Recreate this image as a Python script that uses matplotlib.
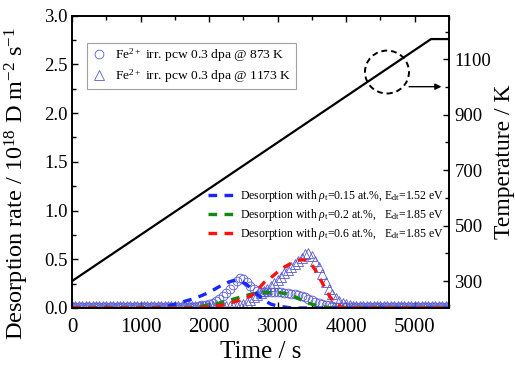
import numpy as np
import matplotlib
matplotlib.use("Agg")
import matplotlib.pyplot as plt
from matplotlib.patches import Ellipse
from matplotlib.ticker import MultipleLocator, FormatStrFormatter

plt.rcParams['font.family'] = ['Liberation Serif', 'DejaVu Serif']
plt.rcParams['mathtext.fontset'] = 'custom'
plt.rcParams['mathtext.rm'] = 'Liberation Serif'
plt.rcParams['mathtext.it'] = 'Liberation Serif:italic'
plt.rcParams['mathtext.bf'] = 'Liberation Serif:bold'

# ---------------- data ----------------
time_s = np.arange(0, 5550, 50)  # 0 .. 5500 s, 111 samples

exp_873 = [0.015]*37 + [0.02, 0.03, 0.035, 0.045, 0.055, 0.07, 0.09, 0.12, 0.15, 0.19,
                        0.24, 0.28, 0.31, 0.30, 0.27, 0.23, 0.19, 0.17, 0.16, 0.16,
                        0.16, 0.16, 0.16, 0.16, 0.16, 0.155, 0.15, 0.145, 0.14, 0.13,
                        0.12, 0.11, 0.095, 0.08, 0.065, 0.055, 0.045, 0.035, 0.03, 0.02,
                        0.015] + [0.015]*33
exp_1173 = [0.02]*49 + [0.03, 0.04, 0.06, 0.08, 0.11, 0.13, 0.15, 0.17, 0.20, 0.23,
                        0.26, 0.29, 0.32, 0.36, 0.39, 0.42, 0.45, 0.48, 0.51, 0.55,
                        0.56, 0.53, 0.48, 0.42, 0.35, 0.27, 0.20, 0.14, 0.10, 0.07,
                        0.05, 0.04, 0.03] + [0.02]*29

sim_015 = [0.0]*25 + [0.005, 0.01, 0.015, 0.02, 0.03, 0.04, 0.05, 0.06, 0.07, 0.08,
                      0.09, 0.10, 0.115, 0.13, 0.145, 0.16, 0.18, 0.20, 0.22, 0.24,
                      0.255, 0.27, 0.28, 0.28, 0.275, 0.26, 0.24, 0.21, 0.18, 0.14,
                      0.11, 0.08, 0.06, 0.04, 0.03, 0.02, 0.015, 0.01, 0.005] + [0.0]*47
sim_02 = [0.0]*35 + [0.005, 0.01, 0.015, 0.02, 0.025, 0.03, 0.035, 0.04, 0.05, 0.06,
                     0.07, 0.08, 0.09, 0.10, 0.11, 0.12, 0.13, 0.14, 0.145, 0.15,
                     0.155, 0.16, 0.16, 0.16, 0.16, 0.16, 0.155, 0.15, 0.14, 0.13,
                     0.115, 0.10, 0.08, 0.06, 0.05, 0.04, 0.03, 0.02, 0.015, 0.01,
                     0.005] + [0.0]*35
sim_06 = [0.0]*37 + [0.005, 0.01, 0.01, 0.01, 0.015, 0.02, 0.025, 0.03, 0.04, 0.05,
                     0.06, 0.07, 0.085, 0.10, 0.11, 0.12, 0.15, 0.19, 0.22, 0.26,
                     0.29, 0.31, 0.34, 0.37, 0.40, 0.42, 0.44, 0.46, 0.48, 0.49,
                     0.495, 0.49, 0.47, 0.44, 0.39, 0.32, 0.26, 0.19, 0.13, 0.08,
                     0.04, 0.02, 0.005] + [0.0]*31

temp_time = [0, 5238, 5500]
temp_K = [300, 1173, 1173]

exp_labels = [r"Fe$^{2+}$ irr. pcw 0.3 dpa @ 873 K",
              r"Fe$^{2+}$ irr. pcw 0.3 dpa @ 1173 K"]
sim_labels = [r"Desorption with $\rho_{\rm t}$=0.15 at.%, E$_{\rm dt}$=1.52 eV",
              r"Desorption with $\rho_{\rm t}$=0.2 at.%,   E$_{\rm dt}$=1.85 eV",
              r"Desorption with $\rho_{\rm t}$=0.6 at.%,   E$_{\rm dt}$=1.85 eV"]

# ---------------- figure ----------------
fig = plt.figure(figsize=(5.15, 3.66), dpi=100)
ax = fig.add_axes([72/515, 1-308/366, 377/515, 292.5/366])

mcol = '#5a5ad0'
h1, = ax.plot(time_s, exp_873, linestyle='none', marker='o', ms=6.3, mfc='none',
              mec=mcol, mew=0.6)
h2, = ax.plot(time_s, exp_1173, linestyle='none', marker='^', ms=6.8, mfc='none',
              mec=mcol, mew=0.6)

dash_kw = dict(lw=2.4, dashes=(2.6, 2.2), dash_capstyle='butt')
s1, = ax.plot(time_s, sim_015, color='#1428ff', **dash_kw)
s2, = ax.plot(time_s, sim_02, color='#108a10', **dash_kw)
s3, = ax.plot(time_s, sim_06, color='#ff1010', **dash_kw)

ax.set_xlim(0, 5500)
ax.set_ylim(0, 3.0)
ax.xaxis.set_major_locator(MultipleLocator(1000))
ax.xaxis.set_minor_locator(MultipleLocator(500))
ax.yaxis.set_major_locator(MultipleLocator(0.5))
ax.yaxis.set_minor_locator(MultipleLocator(0.25))
ax.tick_params(which='both', direction='in', top=True, right=False, width=1)
ax.tick_params(which='major', length=4)
ax.tick_params(which='minor', length=3)
ax.tick_params(axis='x', labelsize=15, pad=7)
ax.tick_params(axis='y', labelsize=13.5, pad=3)
ax.yaxis.set_major_formatter(FormatStrFormatter('%.1f'))
for sp in ax.spines.values():
    sp.set_linewidth(1.2)

ax.set_xlabel("Time / s", fontsize=18, labelpad=3)
ax.set_ylabel(r"Desorption rate / 10$^{18}$ D m$^{-2}$ s$^{-1}$", fontsize=17.5)
ax.yaxis.set_label_coords(-0.108, 0.425)

# annotation: dashed circle and arrow
ax.add_patch(Ellipse((4595, 2.42), 642, 0.44, fill=False, ls=(0, (3, 2)), lw=1.4,
                     color='black', zorder=5))
ax.annotate("", xy=(5390, 2.27), xytext=(4917, 2.27),
            arrowprops=dict(arrowstyle='-|>', color='black', lw=1.0,
                            mutation_scale=9, shrinkA=0, shrinkB=0), zorder=5)

# temperature axis
ax2 = ax.twinx()
ax2.plot(temp_time, temp_K, color='black', lw=1.6)
ax2.set_ylim(203, 1258)
ax2.yaxis.set_major_locator(MultipleLocator(200, offset=100))
ax2.yaxis.set_minor_locator(MultipleLocator(100))
ax2.tick_params(which='both', direction='in', width=1)
ax2.tick_params(which='major', length=4, labelsize=13.5, pad=4)
ax2.tick_params(which='minor', length=3)
ax2.set_ylabel("Temperature / K", fontsize=17)
ax2.yaxis.set_label_coords(1.12, 0.5)
for sp in ax2.spines.values():
    sp.set_linewidth(1.2)

leg1 = ax2.legend([h1, h2], exp_labels, loc='upper left',
                  bbox_to_anchor=(0.04, 0.907), fontsize=9.7, frameon=True,
                  fancybox=False, edgecolor='#888888', handlelength=1.2,
                  handletextpad=0.6, borderpad=0.3, labelspacing=0.25,
                  borderaxespad=0)
leg1.get_frame().set_linewidth(0.8)
ax2.add_artist(leg1)

leg2 = ax2.legend([s1, s2, s3], sim_labels, loc='upper left',
                  bbox_to_anchor=(0.36, 0.41), fontsize=8.5, frameon=False,
                  handlelength=2.2, handletextpad=0.55, labelspacing=0.25,
                  borderaxespad=0, borderpad=0)

fig.savefig("out.png", dpi=100)
